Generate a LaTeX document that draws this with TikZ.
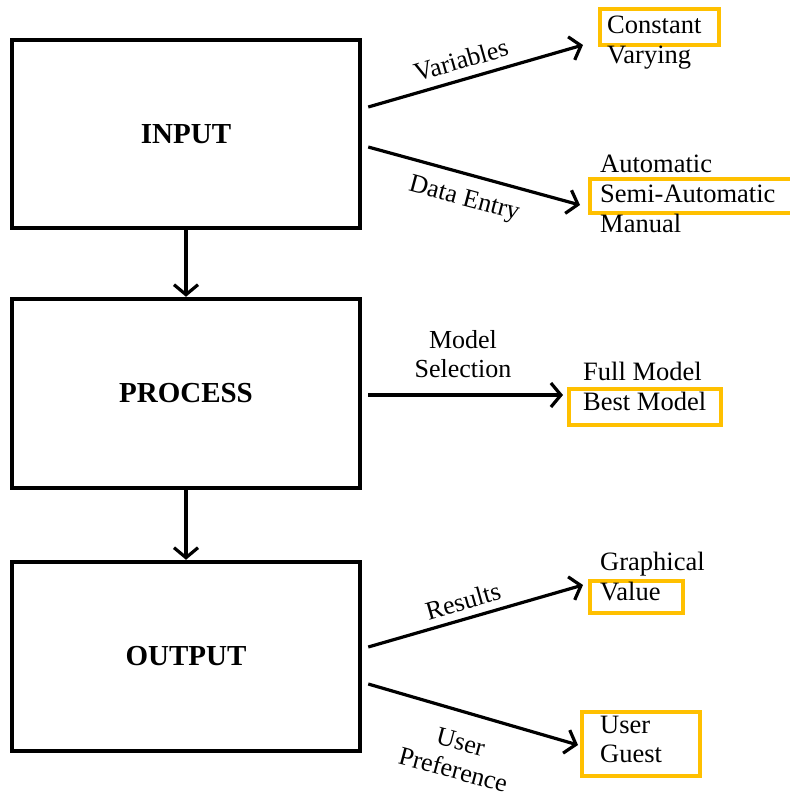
\documentclass[tikz,border=0pt]{standalone}
\usepackage{fontspec}
\setmainfont{Liberation Serif}
\usetikzlibrary{arrows.meta}
\definecolor{gold}{HTML}{FFC000}
\begin{document}
\begin{tikzpicture}[x=1pt,y=-1pt,
  mainbox/.style={draw, line width=4.5pt, minimum width=348pt, inner sep=0pt,
    font=\fontsize{29}{30}\selectfont\bfseries},
  conn/.style={line width=3.2pt, -{Straight Barb[length=10pt,width=24pt]}},
  obox/.style={draw=gold, line width=3.5pt, inner sep=0pt},
  lbl/.style={font=\fontsize{26}{29}\selectfont, inner sep=0pt, align=center},
  itm/.style={font=\fontsize{26.5}{30}\selectfont, inner sep=0pt, anchor=base west}
]
\clip (0,0) rectangle (790,796);
% main boxes
\node[mainbox, minimum height=188pt] (input) at (186,134) {INPUT};
\node[mainbox, minimum height=189pt] (process) at (186,393.5) {PROCESS};
\node[mainbox, minimum height=189pt] (output) at (186,656.5) {OUTPUT};
\draw[conn] (input.south) -- (process.north);
\draw[conn] (process.south) -- (output.north);
% orange boxes
\node[obox, minimum width=119pt, minimum height=36pt] (bconst) at (659.5,27) {};
\node[obox, minimum width=210pt, minimum height=34pt] (bsemi) at (695,196) {};
\node[obox, minimum width=152pt, minimum height=36pt] (bbest) at (645,407) {};
\node[obox, minimum width=93pt, minimum height=32pt] (bval) at (636.5,597) {};
\node[obox, minimum width=118pt, minimum height=64pt] (buser) at (641,744) {};
% item texts
\node[itm] (tconst) at (607,33) {Constant};
\node[itm] (tvary) at (607,63) {Varying};
\node[itm] (tauto) at (600,172) {Automatic};
\node[itm] (tsemi) at (600,202) {Semi-Automatic};
\node[itm] (tman) at (600,232) {Manual};
\node[itm] (tfull) at (583,380) {Full Model};
\node[itm] (tbest) at (583,410) {Best Model};
\node[itm] (tgraph) at (600,570) {Graphical};
\node[itm] (tval) at (600,600) {Value};
\node[itm] (tuser) at (600,733) {User};
\node[itm] (tguest) at (600,762) {Guest};
% connector ends
\coordinate (vS) at ([shift={(6,-27)}]input.east);
\coordinate (vE) at (583,45);
\coordinate (dS) at ([shift={(6,13)}]input.east);
\coordinate (dE) at (580,205);
\coordinate (mS) at ([shift={(6,1.5)}]process.east);
\coordinate (mE) at (563,395);
\coordinate (rS) at ([shift={(6,-9.5)}]output.east);
\coordinate (rE) at (583,585);
\coordinate (uS) at ([shift={(6,27.5)}]output.east);
\coordinate (uE) at (578,745);
\draw[conn] (vS) -- (vE);
\draw[conn] (dS) -- (dE);
\draw[conn] (mS) -- (mE);
\draw[conn] (rS) -- (rE);
\draw[conn] (uS) -- (uE);
% connector labels
\node[lbl, rotate=16] (lvar) at (461,60) {Variables};
\node[lbl, rotate=-15] (ldata) at (464,200) {Data Entry};
\node[lbl] (lmodel) at (463,354) {Model\\Selection};
\node[lbl, rotate=16] (lres) at (463,601) {Results};
\node[lbl, rotate=-15] (lpref) at (457,756) {User\\Preference};
\end{tikzpicture}
\end{document}
